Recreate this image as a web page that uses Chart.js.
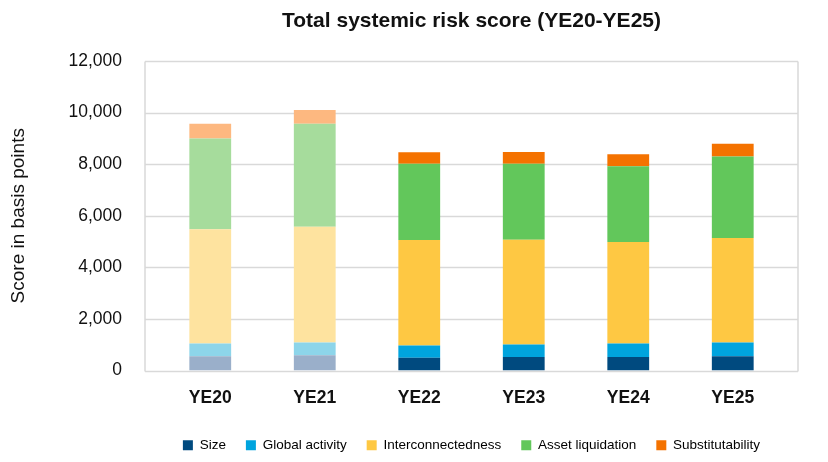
<!DOCTYPE html>
<html>
<head>
<meta charset="utf-8">
<script src="https://cdn.jsdelivr.net/npm/chart.js@4.4.1/dist/chart.umd.min.js"></script>
<style>
  html, body { margin: 0; padding: 0; background: #ffffff; }
  #wrap { width: 828px; height: 462px; position: relative; }
</style>
</head>
<body>
<div id="wrap"><canvas id="c" width="828" height="462"></canvas></div>
<script>
const categories = ['YE20', 'YE21', 'YE22', 'YE23', 'YE24', 'YE25'];
const size = [550, 590, 490, 520, 520, 550];
const globalActivity = [500, 500, 480, 490, 530, 540];
const interconnectedness = [4430, 4480, 4090, 4060, 3930, 4050];
const assetLiquidation = [3520, 4000, 2960, 2950, 2940, 3160];
const substitutability = [570, 530, 440, 450, 460, 490];
const seriesNames = ['Size', 'Global activity', 'Interconnectedness', 'Asset liquidation', 'Substitutability'];
const yTicks = [0, 2000, 4000, 6000, 8000, 10000, 12000];
const fadedCategories = ['YE20', 'YE21'];

const fullColors = ['#004a7f', '#00a4de', '#fec843', '#62c75b', '#f47200'];
const fadedColors = ['#9aafca', '#8dd5ea', '#fee39f', '#a6dc9c', '#fdb880'];
const FONT = '"Liberation Sans", Arial, Helvetica, sans-serif';

const seriesData = [size, globalActivity, interconnectedness, assetLiquidation, substitutability];

const datasets = seriesData.map((vals, i) => ({
  label: seriesNames[i],
  data: vals,
  backgroundColor: (ctx) => fadedCategories.includes(categories[ctx.dataIndex]) ? fadedColors[i] : fullColors[i],
  borderWidth: 0,
  categoryPercentage: 1.0,
  barPercentage: 0.4
}));

const EXT = 13;
const frame = {
  id: 'frame',
  beforeDatasetsDraw(chart) {
    const { ctx, chartArea } = chart;
    const y = chart.scales.y;
    const l = chartArea.left - EXT, r = chartArea.right + EXT;
    ctx.save();
    ctx.strokeStyle = '#d9d9d9';
    ctx.lineWidth = 1.5;
    y.ticks.forEach(t => {
      const py = Math.round(y.getPixelForValue(t.value)) + 0.5;
      ctx.beginPath(); ctx.moveTo(l, py); ctx.lineTo(r, py); ctx.stroke();
    });
    const top = Math.round(y.getPixelForValue(y.max)) + 0.5;
    const bot = Math.round(y.getPixelForValue(y.min)) + 0.5;
    ctx.beginPath(); ctx.moveTo(l, top); ctx.lineTo(l, bot); ctx.stroke();
    ctx.beginPath(); ctx.moveTo(r, top); ctx.lineTo(r, bot); ctx.stroke();
    ctx.restore();
  }
};

new Chart(document.getElementById('c'), {
  type: 'bar',
  data: { labels: categories, datasets },
  plugins: [frame],
  options: {
    responsive: false,
    animation: false,
    devicePixelRatio: 1,
    layout: { padding: { left: 0, right: 43, top: 0, bottom: 0 } },
    plugins: {
      title: {
        display: true,
        text: 'Total systemic risk score (YE20-YE25)',
        fullSize: false,
        color: '#111111',
        font: { family: FONT, size: 21, weight: 'bold', lineHeight: 1.2 },
        padding: { top: 8.4, bottom: 27.4 }
      },
      legend: {
        display: true,
        position: 'bottom',
        fullSize: false,
        labels: {
          boxWidth: 10,
          boxHeight: 10,
          padding: 20,
          color: '#222222',
          font: { family: FONT, size: 13.5 },
          generateLabels: (chart) => seriesNames.map((n, i) => ({
            text: n,
            fillStyle: fullColors[i],
            strokeStyle: fullColors[i],
            lineWidth: 0,
            hidden: false,
            datasetIndex: i
          }))
        }
      },
      tooltip: { enabled: false }
    },
    scales: {
      x: {
        stacked: true,
        afterFit: (scale) => { scale.height = 48; },
        grid: { display: false, drawTicks: false },
        border: { display: false },
        ticks: {
          color: '#111111',
          padding: 17,
          font: { family: FONT, size: 17.5, weight: 'bold', lineHeight: 1.2 }
        }
      },
      y: {
        stacked: true,
        min: 0,
        max: 12000,
        afterBuildTicks: (scale) => { scale.ticks = yTicks.map(v => ({ value: v })); },
        afterFit: (scale) => { scale.width = 158; },
        grid: { display: false, drawTicks: false },
        border: { display: false },
        ticks: {
          color: '#111111',
          padding: 36,
          font: { family: FONT, size: 17.5, lineHeight: 1.2 },
          callback: (v) => v.toLocaleString('en-US')
        },
        title: {
          display: true,
          text: 'Score in basis points',
          color: '#111111',
          font: { family: FONT, size: 19, lineHeight: 1.2 },
          padding: { top: 7.6, bottom: 0 }
        }
      }
    }
  }
});
</script>
</body>
</html>
